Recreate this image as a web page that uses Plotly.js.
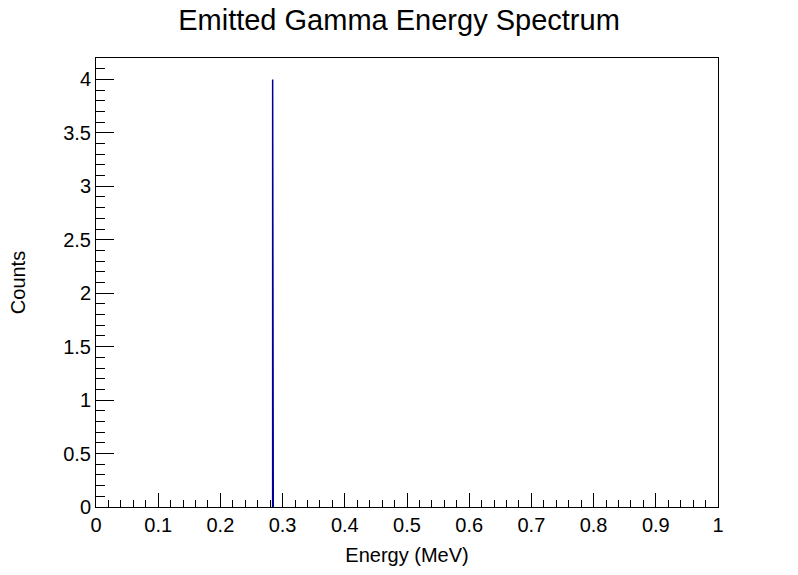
<!DOCTYPE html>
<html>
<head>
<meta charset="utf-8">
<script src="https://cdn.plot.ly/plotly-3.0.1.min.js"></script>
<style>html,body{margin:0;padding:0;background:#fff;}#chart{width:798px;height:575px;}</style>
</head>
<body>
<div id="chart"></div>
<script>
// Populated histogram bins (MeV): all other bins are empty
const binLow = [0.284];
const binHigh = [0.285];
const binCounts = [4];
const xTickVals = [0, 0.1, 0.2, 0.3, 0.4, 0.5, 0.6, 0.7, 0.8, 0.9, 1];
const xTickText = ['0', '0.1', '0.2', '0.3', '0.4', '0.5', '0.6', '0.7', '0.8', '0.9', '1'];
const yTickVals = [0, 0.5, 1, 1.5, 2, 2.5, 3, 3.5, 4];
const yTickText = ['0', '0.5', '1', '1.5', '2', '2.5', '3', '3.5', '4'];

const font = 'Liberation Sans, Arial, Helvetica, sans-serif';

// Build histogram outline from the bin arrays
const hx = [], hy = [];
for (let i = 0; i < binCounts.length; i++) {
  hx.push(binLow[i], binLow[i], binHigh[i], binHigh[i], null);
  hy.push(0, binCounts[i], binCounts[i], 0, null);
}

const trace = {
  x: hx,
  y: hy,
  type: 'scatter',
  mode: 'lines',
  line: {color: '#000099', width: 1.5},
  connectgaps: false,
  hoverinfo: 'x+y'
};

const layout = {
  width: 798,
  height: 575,
  margin: {l: 96, r: 80, t: 58, b: 68, pad: 0},
  paper_bgcolor: '#ffffff',
  plot_bgcolor: '#ffffff',
  showlegend: false,
  title: {
    text: 'Emitted Gamma Energy Spectrum',
    font: {family: font, size: 29, color: '#000'},
    x: 0.5, xanchor: 'center', y: 0.965, yanchor: 'middle'
  },
  xaxis: {
    range: [0, 1],
    tickvals: xTickVals,
    ticktext: xTickText,
    ticks: 'inside',
    ticklen: 14,
    tickwidth: 1,
    tickcolor: '#000',
    minor: {dtick: 0.02, ticks: 'inside', ticklen: 7, tickwidth: 1, tickcolor: '#000', showgrid: false},
    showline: true, linecolor: '#000', linewidth: 1, mirror: true,
    showgrid: false, zeroline: false,
    tickfont: {family: font, size: 20, color: '#000'},
    title: {text: 'Energy (MeV)', font: {family: font, size: 20, color: '#000'}, standoff: 12},
    automargin: false
  },
  yaxis: {
    range: [0, 4.2],
    tickvals: yTickVals,
    ticktext: yTickText,
    ticks: 'inside',
    ticklen: 18,
    tickwidth: 1,
    tickcolor: '#000',
    minor: {dtick: 0.1, ticks: 'inside', ticklen: 9, tickwidth: 1, tickcolor: '#000', showgrid: false},
    showline: true, linecolor: '#000', linewidth: 1, mirror: true,
    showgrid: false, zeroline: false,
    tickfont: {family: font, size: 20, color: '#000'},
    title: {text: 'Counts', font: {family: font, size: 20, color: '#000'}, standoff: 32},
    automargin: false
  }
};

Plotly.newPlot('chart', [trace], layout, {displayModeBar: false, staticPlot: true});
</script>
</body>
</html>
